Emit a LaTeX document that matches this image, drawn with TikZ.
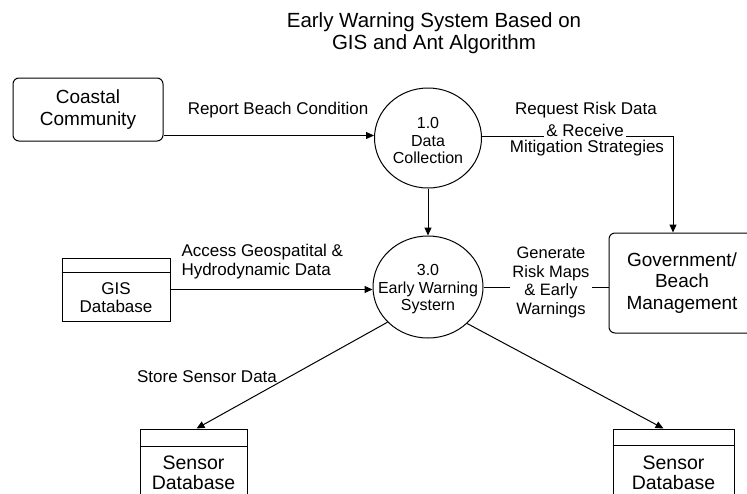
\documentclass[tikz,border=0pt]{standalone}
\usepackage{fontspec}
\setmainfont{Liberation Sans}
\usetikzlibrary{arrows.meta,shapes.geometric}

\begin{document}
\begin{tikzpicture}[x=1pt,y=1pt,line width=1pt,
    every node/.style={inner sep=0pt,align=center},
    proc/.style={draw,ellipse},
    proctext/.style={font=\fontsize{16}{17.5}\selectfont},
    entity/.style={draw,rounded corners=6pt,font=\fontsize{19}{21.5}\selectfont},
    store/.style={draw},
    lbl/.style={font=\fontsize{17}{19}\selectfont},
    flow/.style={-{Triangle[length=8pt,width=7pt]}}]
      \useasboundingbox (0,0) rectangle (747,-493);
      \clip (0,0) rectangle (747,-493);
      \node[font=\fontsize{20.5}{22}\selectfont] (title) at (434,-33) {Early Warning System Based on\\GIS and Ant Algorithm};
      \node[entity,minimum width=150,minimum height=63] (coastal) at (88,-109.5) {Coastal\\Community};
      \node[entity,minimum width=146,minimum height=100] (gov) at (682,-283) {Government/\\Beach\\Management};
      \node[proc,minimum width=107,minimum height=100] (dc) at (428,-138) {};
      \node[proctext] (dctext) at (428,-140.5) {1.0\\Data\\Collection};
      \node[proc,minimum width=110,minimum height=102] (ews) at (428,-287) {};
      \node[proctext] (ewstext) at (428,-289.5) {3.0\\Early Warning\\Systern};
      \node[store,minimum width=108,minimum height=63] (gis) at (116,-289.5) {};
      \node[font=\fontsize{17}{18}\selectfont] (gistext) at (116,-298) {GIS\\Database};
      \node[store,minimum width=107,minimum height=68] (sl) at (193.5,-463) {};
      \node[font=\fontsize{19.5}{20}\selectfont] (sltext) at (193.5,-473) {Sensor\\Database};
      \node[store,minimum width=121,minimum height=68] (sr) at (673.5,-463) {};
      \node[font=\fontsize{19.5}{20}\selectfont] (srtext) at (673.5,-473) {Sensor\\Database};
      \draw ([yshift=-15pt]gis.north west) -- ([yshift=-15pt]gis.north east);
      \draw ([yshift=-18pt]sl.north west) -- ([yshift=-18pt]sl.north east);
      \draw ([yshift=-17pt]sr.north west) -- ([yshift=-17pt]sr.north east);
      \coordinate (cc) at ([yshift=-26pt]coastal.east);
      \coordinate (dcout) at ([yshift=2pt]dc.east);
      \draw[flow] (cc) -- (cc -| dc.west);
      \draw[flow] (dcout) -| ([xshift=-9pt]gov.north);
      \draw[flow] (dc) -- (ews);
      \draw[flow] (gis.east) -- (gis.east -| ews.west);
      \draw (ews.east) -- (ews.east -| gov.west);
      \draw[flow] (ews.-139) -- ([xshift=3pt]sl.north);
      \draw[flow] (ews.-43) -- ([xshift=-10pt]sr.north);
      \node[lbl] (report) at (278,-110) {Report Beach Condition};
      \node[lbl] (request) at (586,-110) {Request Risk Data};
      \node[lbl,fill=white,inner xsep=2pt,inner ysep=4pt] (receive) at (585,-130) {\& Receive};
      \node[lbl] (mitigate) at (587,-148) {Mitigation Strategies};
      \node[lbl,align=left,anchor=west] (access) at (181,-262) {Access Geospatital \&\\Hydrodynamic Data};
      \node[lbl,fill=white,inner xsep=2pt,inner ysep=1pt,font=\fontsize{16.5}{18.5}\selectfont] (generate) at (551,-282.5) {Generate\\Risk Maps\\\& Early\\Warnings};
      \node[lbl] (storelbl) at (207,-377) {Store Sensor Data};
\end{tikzpicture}
\end{document}
